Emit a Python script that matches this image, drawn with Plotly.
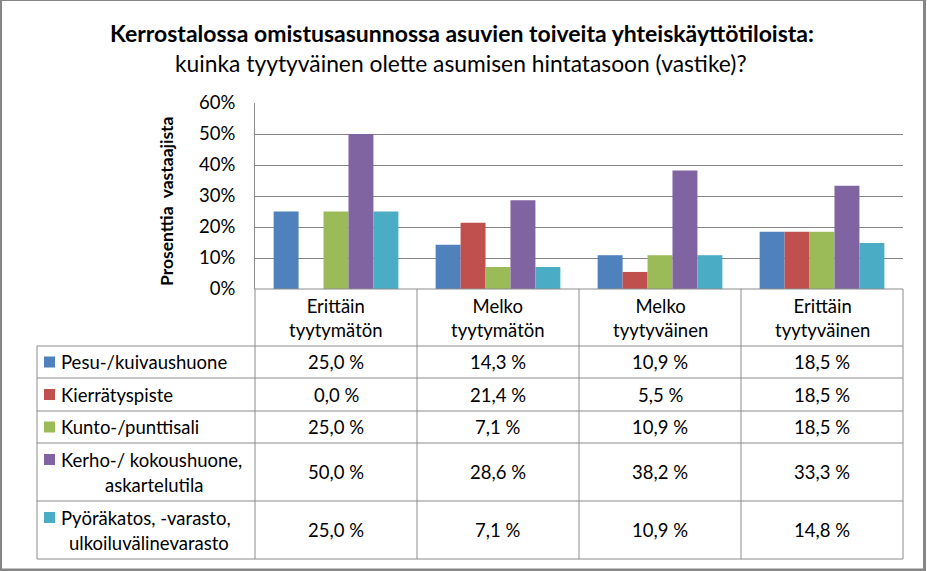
import plotly.graph_objects as go

W, H = 927, 571

categories = ["Erittäin<br>tyytymätön", "Melko<br>tyytymätön", "Melko<br>tyytyväinen", "Erittäin<br>tyytyväinen"]
series_names = ["Pesu-/kuivaushuone", "Kierrätyspiste", "Kunto-/punttisali",
                "Kerho-/ kokoushuone,<br>askartelutila", "Pyöräkatos, -varasto,<br>ulkoiluvälinevarasto"]
pesu = [25.0, 14.3, 10.9, 18.5]
kierratys = [0.0, 21.4, 5.5, 18.5]
kunto = [25.0, 7.1, 10.9, 18.5]
kerho = [50.0, 28.6, 38.2, 33.3]
pyora = [25.0, 7.1, 10.9, 14.8]
series_values = [pesu, kierratys, kunto, kerho, pyora]
colors = ["#4F81BD", "#C0504D", "#9BBB59", "#8064A2", "#4BACC6"]
y_ticks = [0, 0.1, 0.2, 0.3, 0.4, 0.5, 0.6]

FONT = "Lato"
FS = 18.5
GRID = "#868686"
LINE = "#8C8C8C"


def X(px):
    return px / W


def Y(py):
    return 1 - py / H


# layout geometry (pixels)
plot_l, plot_r, plot_t, plot_b = 255, 903, 103, 289
table_l = 37
row_bounds = [289, 346, 378, 411, 443, 501, 559]
second_line_center = [154, 149]
col_edges = [plot_l + i * (plot_r - plot_l) / len(categories) for i in range(len(categories) + 1)]

fig = go.Figure()
xcats = [c.replace("<br>", " ") for c in categories]
for name, vals, col in zip(series_names, series_values, colors):
    fig.add_trace(go.Bar(x=xcats, y=[v / 100 for v in vals], name=name.replace("<br>", " "),
                         marker=dict(color=col, line=dict(width=0)), showlegend=False))

shapes = []
annotations = []


def hline(py, x0, x1, color=LINE, width=1):
    shapes.append(dict(type="line", xref="paper", yref="paper", x0=X(x0), x1=X(x1),
                       y0=Y(py), y1=Y(py), line=dict(color=color, width=width)))


def vline(px, y0, y1, color=LINE, width=1):
    shapes.append(dict(type="line", xref="paper", yref="paper", x0=X(px), x1=X(px),
                       y0=Y(y0), y1=Y(y1), line=dict(color=color, width=width)))


def text(px, py, s, anchor="center", size=FS, **kw):
    annotations.append(dict(x=X(px), y=Y(py), xref="paper", yref="paper", text=s,
                            showarrow=False, xanchor=anchor, yanchor="middle",
                            font=dict(family=FONT, size=size, color="black"), **kw))


hline(row_bounds[0], plot_l, plot_r)
for rb in row_bounds[1:]:
    hline(rb, table_l, plot_r)
vline(table_l, row_bounds[1], row_bounds[-1])
for ce in col_edges:
    vline(ce, row_bounds[0], row_bounds[-1])

# header text
for i, cat in enumerate(categories):
    cx = (col_edges[i] + col_edges[i + 1]) / 2
    cy = (row_bounds[0] + row_bounds[1]) / 2
    text(cx, cy, cat)

# rows
k = 0
for r, (name, vals, col) in enumerate(zip(series_names, series_values, colors)):
    top, bot = row_bounds[r + 1], row_bounds[r + 2]
    cy = (top + bot) / 2
    parts = name.split("<br>")
    if len(parts) == 2:
        my = cy - 12.5
        text(59, cy - 12.5, parts[0], anchor="left")
        text(second_line_center[k], cy + 12.5, parts[1])
        k += 1
    else:
        my = cy
        text(59, cy, name, anchor="left")
    shapes.append(dict(type="rect", xref="paper", yref="paper", x0=X(44), x1=X(55),
                       y0=Y(my - 5.5), y1=Y(my + 5.5), fillcolor=col, line=dict(width=0)))
    for i, v in enumerate(vals):
        cx = (col_edges[i] + col_edges[i + 1]) / 2
        text(cx, cy, f"{v:.1f}".replace(".", ",") + " %")

# title
text(462, 33, "<b>Kerrostalossa omistusasunnossa asuvien toiveita yhteiskäyttötiloista:</b>", size=23)
text(461, 63, "kuinka tyytyväinen olette asumisen hintatasoon (vastike)?", size=22.8)
# y axis title
text(167, 201, "<b>Prosenttia  vastaajista</b>", size=17.5, textangle=-90)

# outer border
shapes.append(dict(type="line", xref="paper", yref="paper", x0=X(1), x1=X(1), y0=0, y1=1,
                   line=dict(color=GRID, width=2)))
shapes.append(dict(type="line", xref="paper", yref="paper", x0=0, x1=X(926), y0=Y(0.5), y1=Y(0.5),
                   line=dict(color=GRID, width=1)))
shapes.append(dict(type="line", xref="paper", yref="paper", x0=X(924.5), x1=X(924.5), y0=Y(0), y1=Y(571),
                   line=dict(color=GRID, width=3)))
shapes.append(dict(type="line", xref="paper", yref="paper", x0=0, x1=X(926), y0=Y(569.8), y1=Y(569.8),
                   line=dict(color=GRID, width=2.5)))

fig.update_layout(
    width=W, height=H, margin=dict(l=0, r=0, t=0, b=0, pad=0, autoexpand=False),
    paper_bgcolor="white", plot_bgcolor="white",
    barmode="group", bargap=0.23, bargroupgap=0,
    font=dict(family=FONT, color="black"),
    shapes=shapes, annotations=annotations,
    xaxis=dict(domain=[X(plot_l), X(plot_r)], showticklabels=False, showgrid=False,
               zeroline=False, showline=False, ticks="", fixedrange=True, automargin=False),
    yaxis=dict(domain=[Y(plot_b), Y(plot_t)], range=[0, 0.6], tickvals=y_ticks,
               tickformat=".0%", showgrid=True, gridcolor=GRID, gridwidth=1,
               zeroline=False, showline=True, linecolor=LINE, linewidth=1,
               ticks="", ticklabelstandoff=15, automargin=False,
               tickfont=dict(family=FONT, size=FS, color="black"), fixedrange=True),
)

fig.write_html("out.html")
